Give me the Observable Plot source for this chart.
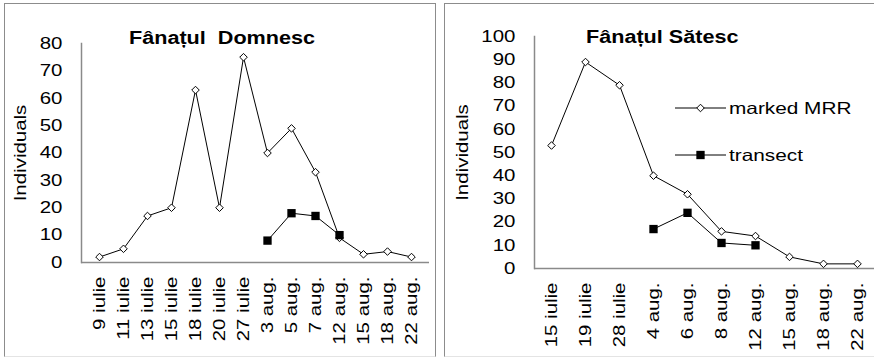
<!DOCTYPE html>
<html>
<head>
<meta charset="utf-8">
<script src="https://cdn.jsdelivr.net/npm/d3@7"></script>
<script src="https://cdn.jsdelivr.net/npm/@observablehq/plot@0.6"></script>
<style>
  html, body { margin: 0; padding: 0; background: #fff; overflow: hidden; }
  #page { position: relative; width: 874px; height: 358px; overflow: hidden;
          font-family: "Liberation Sans", Arial, sans-serif; color: #000; }
  .panel { position: absolute; top: 3px; height: 354px; box-sizing: border-box;
           border: 1px solid #8c8c8c; border-bottom-color: #e4e4e4; }
  .chart { position: absolute; top: 3px; }
  .chart svg { max-width: none; }
  .title { position: absolute; font-weight: bold; font-size: 18px; line-height: 18px;
           white-space: pre; transform: scaleX(1.2); transform-origin: 0 50%; }
  .legend-row { position: absolute; height: 20px; display: flex; align-items: center; }
  .legend-row span { font-size: 16.5px; line-height: 20px; white-space: pre;
                     transform: scaleX(1.26); transform-origin: 0 50%; margin-left: 3px; }
</style>
</head>
<body>
<div id="page">
  <div class="panel" style="left:4px;width:432px"></div>
  <div class="panel" style="left:444px;width:500px"></div>
  <div class="chart" id="left" style="left:4px;width:431px"></div>
  <div class="chart" id="right" style="left:445px;width:429px"></div>
  <div class="title" id="titleLeft" style="left:129px;top:29px"></div>
  <div class="title" id="titleRight" style="left:586px;top:28px"></div>
  <div id="legend"></div>
</div>
<script>
// Fânațul Domnesc: survey dates and counts
const domnescDates = ["9 iulie", "11 iulie", "13 iulie", "15 iulie", "18 iulie", "20 iulie", "27 iulie",
                      "3 aug.", "5 aug.", "7 aug.", "12 aug.", "15 aug.", "18 aug.", "22 aug."];
const domnescMarked = [2, 5, 17, 20, 63, 20, 75, 40, 49, 33, 9, 3, 4, 2];
const domnescTransect = [null, null, null, null, null, null, null, 8, 18, 17, 10, null, null, null];

// Fânațul Sătesc: survey dates and counts
const satescDates = ["15 iulie", "19 iulie", "28 iulie", "4 aug.", "6 aug.", "8 aug.",
                     "12 aug.", "15 aug.", "18 aug.", "22 aug."];
const satescMarked = [53, 89, 79, 40, 32, 16, 14, 5, 2, 2];
const satescTransect = [null, null, null, 17, 24, 11, 10, null, null, null];

const seriesNames = ["marked MRR", "transect"];
const titles = ["Fânațul  Domnesc", "Fânațul Sătesc"];
const yLabel = "Individuals";
const domnescTicks = [0, 10, 20, 30, 40, 50, 60, 70, 80];
const satescTicks = [0, 10, 20, 30, 40, 50, 60, 70, 80, 90, 100];

const axisGray = "#8a8a8a";
const TEXT_STRETCH = 1.24;
const FONT_SIZE = 16.5;

function panelChart({dates, marked, transect, ticks, width, margins, labelDx}) {
  const rows = dates.map((date, i) => ({date, marked: marked[i], transect: transect[i]}));
  const markedRows = rows.filter(d => d.marked != null);
  const transectRows = rows.filter(d => d.transect != null);
  return Plot.plot({
    width,
    height: 352,
    ...margins,
    style: `background:none;overflow:visible;max-width:none;font-family:'Liberation Sans',Arial,sans-serif;font-size:${FONT_SIZE}px;color:#000`,
    x: {type: "point", domain: dates, padding: 0.5},
    y: {domain: [ticks[0], ticks[ticks.length - 1]]},
    marks: [
      Plot.ruleY([0], {stroke: axisGray, strokeWidth: 1.5}),
      Plot.frame({anchor: "left", stroke: axisGray, strokeWidth: 1.5}),
      Plot.axisY({ticks, tickSize: 0, tickPadding: 19, label: null, fontSize: FONT_SIZE}),
      Plot.axisX({tickSize: 0, tickPadding: 14, tickRotate: -90, label: null, fontSize: FONT_SIZE}),
      Plot.text([yLabel], {frameAnchor: "left", textAnchor: "middle", rotate: -90, dx: labelDx, fontSize: FONT_SIZE}),
      Plot.line(markedRows, {x: "date", y: "marked", stroke: "#000", strokeWidth: 1}),
      Plot.line(transectRows, {x: "date", y: "transect", stroke: "#000", strokeWidth: 1}),
      Plot.dot(markedRows, {x: "date", y: "marked", symbol: "diamond2", r: 3.4, fill: "#fff", stroke: "#000", strokeWidth: 1}),
      Plot.dot(transectRows, {x: "date", y: "transect", symbol: "square", r: 4.7, fill: "#000", stroke: "none"})
    ]
  });
}

// Widen glyphs along each label's own baseline (the labels use a wide sans);
// the scale is appended to the label's translate/rotate so its anchor stays put
function widenText(svg, k) {
  svg.querySelectorAll("text").forEach(t => {
    const tr = t.getAttribute("transform") || "";
    t.setAttribute("transform", `${tr} scale(${k},1)`);
  });
}

const left = panelChart({
  dates: domnescDates, marked: domnescMarked, transect: domnescTransect, ticks: domnescTicks,
  width: 431, margins: {marginLeft: 77, marginRight: 6, marginTop: 40, marginBottom: 93}, labelDx: -61
});
const right = panelChart({
  dates: satescDates, marked: satescMarked, transect: satescTransect, ticks: satescTicks,
  width: 429, margins: {marginLeft: 89, marginRight: 0, marginTop: 33, marginBottom: 87}, labelDx: -72
});
document.getElementById("left").append(left);
document.getElementById("right").append(right);
widenText(left, TEXT_STRETCH);
widenText(right, TEXT_STRETCH);

document.getElementById("titleLeft").textContent = titles[0];
document.getElementById("titleRight").textContent = titles[1];

// Legend for the right-hand panel
const legend = document.getElementById("legend");
const legendTops = [108, 155];
const symbols = [
  {type: d3.symbolDiamond2, size: Math.PI * 3.4 * 3.4, fill: "#fff"},
  {type: d3.symbolSquare, size: Math.PI * 4.7 * 4.7, fill: "#000"}
];
seriesNames.forEach((name, i) => {
  const row = document.createElement("div");
  row.className = "legend-row";
  row.style.left = "675px";
  row.style.top = (legendTops[i] - 10) + "px";
  const svg = d3.create("svg").attr("width", 51).attr("height", 20);
  svg.append("line").attr("x1", 0).attr("x2", 51).attr("y1", 10).attr("y2", 10)
    .attr("stroke", "#000").attr("stroke-width", 1);
  svg.append("path").attr("transform", "translate(25.5,10)")
    .attr("d", d3.symbol(symbols[i].type, symbols[i].size)())
    .attr("fill", symbols[i].fill).attr("stroke", i === 0 ? "#000" : "none");
  row.append(svg.node());
  const label = document.createElement("span");
  label.textContent = name;
  row.append(label);
  legend.append(row);
});
</script>
</body>
</html>
